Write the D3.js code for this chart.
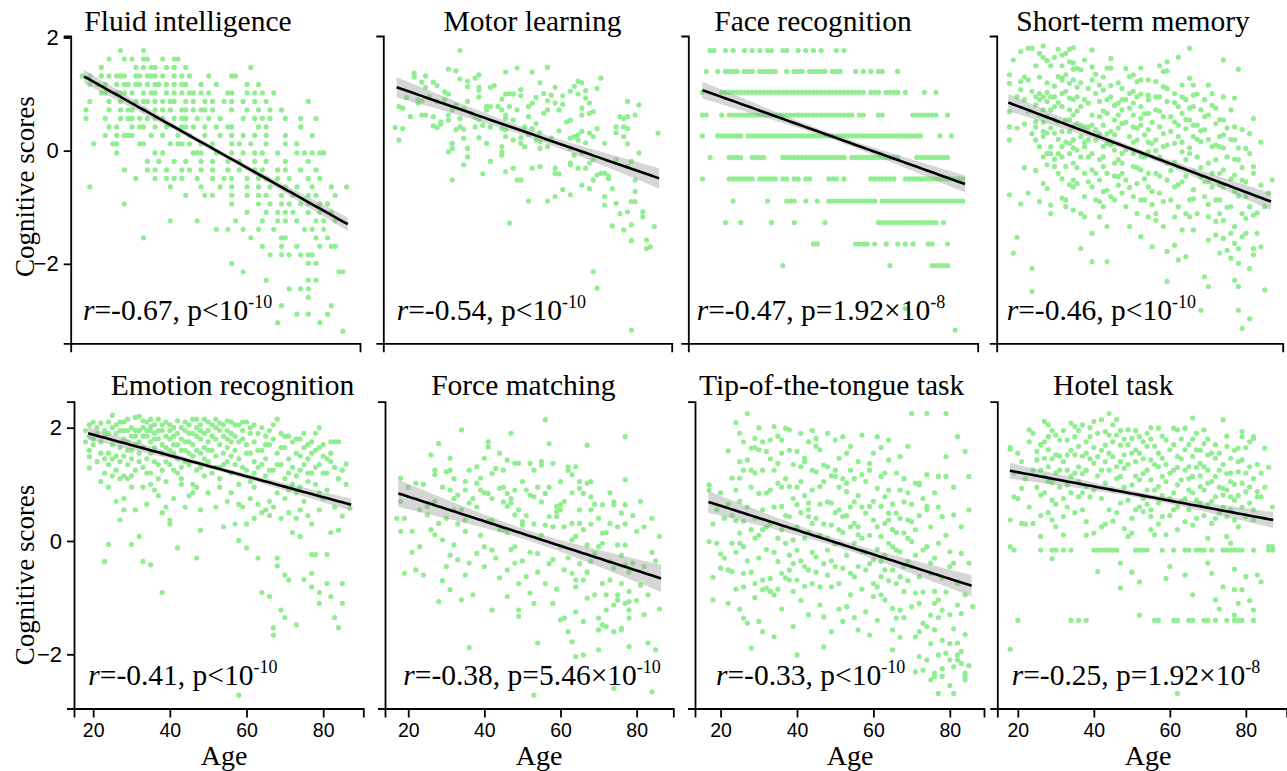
<!DOCTYPE html>
<html>
<head>
<meta charset="utf-8">
<script src="https://cdn.jsdelivr.net/npm/d3@7"></script>
<style>
  html, body { margin: 0; padding: 0; background: #fff; }
  svg { display: block; }
</style>
</head>
<body>
<svg id="chart" width="1287" height="771"></svg>
<script>
// ---------------- data ----------------
const panelTitles = ["Fluid intelligence", "Motor learning", "Face recognition", "Short-term memory",
  "Emotion recognition", "Force matching", "Tip-of-the-tongue task", "Hotel task"];
const rValues    = ["-0.67", "-0.54", "-0.47", "-0.46", "-0.41", "-0.38", "-0.33", "-0.25"];
const pRelations = ["<", "<", "=", "<", "<", "=", "<", "="];
const pMantissas = ["", "", "1.92\u00d7", "", "", "5.46\u00d7", "", "1.92\u00d7"];
const pExponents = ["-10", "-10", "-8", "-10", "-10", "-10", "-10", "-8"];

// fitted line end points [age, score] and half-width of the 95% band (ends, centre)
const fitStarts = [[18.5, 1.31], [17.4, 1.12], [17.0, 1.07], [17.7, 0.85], [18.7, 1.90], [17.4, 0.84], [16.8, 0.69], [17.9, 1.24]];
const fitEnds   = [[87.3, -1.30], [86.3, -0.49], [85.6, -0.59], [87.7, -0.90], [87.3, 0.64], [86.4, -0.66], [85.7, -0.79], [87.2, 0.37]];
const ciHalfEnds = [0.12, 0.18, 0.15, 0.15, 0.11, 0.24, 0.19, 0.14];
const ciHalfMids = [0.04, 0.07, 0.05, 0.05, 0.04, 0.09, 0.07, 0.05];

const yTickValues = [-2, 0, 2];
const xTickValues = [20, 40, 60, 80];

// Fluid intelligence: scores fall on discrete levels; ages listed per level
const fluidLevels = [1.77, 1.62, 1.47, 1.32, 1.17, 1.02, 0.87, 0.72, 0.57, 0.42, 0.27, 0.12, -0.04, -0.19, -0.34, -0.49, -0.64,
  -0.79, -0.94, -1.09, -1.24, -1.39, -1.54, -1.69, -1.84, -1.99, -2.14, -2.29, -2.44, -2.59, -2.74, -2.89, -3.04, -3.19];
const fluidAgesByLevel = [
  [28, 34],
  [25, 29, 31, 34, 35, 39, 42, 43],
  [23, 32, 34, 36, 37, 40, 42, 45, 62],
  [18, 20, 23, 25, 27, 28, 29, 32, 33, 35, 36, 37, 39, 42, 44, 46, 51, 57, 58],
  [20, 22, 24, 27, 29, 30, 32, 33, 35, 37, 38, 40, 42, 44, 45, 49, 53, 61, 64],
  [23, 24, 27, 28, 29, 31, 34, 36, 37, 40, 42, 44, 46, 47, 49, 51, 56, 57, 61, 63, 65, 68],
  [20, 25, 28, 32, 34, 35, 37, 39, 41, 42, 45, 47, 50, 52, 55, 57, 60, 63, 66, 77],
  [19, 25, 28, 30, 31, 34, 37, 39, 41, 44, 45, 47, 49, 50, 52, 57, 61, 64, 67, 70],
  [19, 24, 28, 30, 31, 33, 35, 37, 39, 42, 44, 45, 48, 51, 54, 60, 63, 65, 67, 71, 75, 79],
  [25, 27, 31, 33, 34, 37, 40, 44, 45, 47, 50, 53, 56, 57, 64, 66, 75],
  [24, 27, 29, 30, 31, 36, 39, 43, 46, 50, 54, 57, 60, 63, 66, 71, 78],
  [21, 26, 27, 33, 34, 41, 43, 44, 46, 49, 52, 57, 59, 62, 66, 71, 74],
  [27, 37, 39, 47, 48, 49, 53, 57, 60, 63, 65, 69, 74, 76, 78, 80, 81],
  [35, 38, 42, 45, 49, 52, 56, 59, 63, 66, 71, 77],
  [29, 35, 37, 40, 44, 46, 49, 52, 56, 59, 63, 65, 69, 71, 75, 79],
  [32, 37, 40, 42, 44, 48, 52, 55, 57, 61, 64, 66, 69, 72, 77, 80],
  [20, 41, 49, 54, 57, 61, 64, 67, 71, 74, 78, 83, 87],
  [45, 50, 52, 57, 61, 64, 66, 70, 73, 77, 79, 84],
  [29, 57, 64, 67, 70, 72, 75, 77, 80, 82],
  [61, 66, 69, 71, 73, 77, 80, 83],
  [41, 48, 58, 65, 69, 71, 74, 79, 81, 84],
  [53, 56, 60, 64, 68, 76, 78, 81],
  [34, 62, 70, 71, 79, 82],
  [65, 70, 74, 80, 83, 84],
  [67, 70, 72, 75, 77, 78],
  [57, 77, 79],
  [60, 85, 86],
  [66, 77, 79],
  [72, 75, 77],
  [77],
  [70, 83],
  [74, 77, 82],
  [69, 80],
  [86]
];

const motorPoints = [
  [34,1.77],[31,1.44],[33,1.41],[49,1.46],[46,1.39],[53,1.39],[57,1.47],[22,1.37],[25,1.32],[22,1.30],[27,1.21],[28,1.15],
  [24,1.21],[25,1.12],[34,1.27],[36,1.23],[36,1.13],[38,1.28],[39,1.34],[39,1.12],[39,1.07],[43,1.15],[42,1.12],[55,1.20],
  [50,1.08],[56,1.01],[59,1.12],[58,0.98],[61,0.97],[64,1.14],[65,1.23],[66,1.20],[67,1.06],[70,1.10],[71,1.28],[30,1.04],
  [31,1.00],[30,0.90],[23,0.90],[26,0.96],[20,0.94],[23,0.84],[24,0.88],[28,0.87],[33,0.81],[36,0.87],[39,0.95],[41,0.78],
  [45,0.91],[46,1.00],[47,1.01],[48,1.00],[50,0.97],[52,0.78],[54,0.94],[53,0.84],[57,0.88],[59,0.84],[61,0.82],[63,1.05],
  [65,1.00],[67,0.93],[68,0.84],[66,0.75],[68,0.66],[69,0.69],[66,0.63],[63,0.54],[60,0.72],[57,0.72],[56,0.66],[54,0.48],
  [52,0.60],[49,0.72],[47,0.78],[45,0.72],[46,0.63],[46,0.57],[44,0.78],[42,0.78],[41,0.72],[39,0.55],[38,0.59],[37,0.66],
  [35,0.74],[32,0.72],[31,0.63],[31,0.54],[29,0.47],[27,0.60],[24,0.63],[25,0.63],[21,0.60],[19,0.75],[18,0.78],[17,0.41],
  [19,0.39],[18,0.19],[27,0.44],[28,0.41],[29,0.51],[34,0.57],[34,0.42],[35,0.38],[33,0.37],[38,0.42],[40,0.45],[42,0.42],
  [45,0.39],[46,0.37],[48,0.54],[51,0.42],[53,0.39],[55,0.32],[52,0.28],[50,0.23],[54,0.19],[55,0.16],[58,0.22],[60,0.35],
  [62,0.51],[63,0.22],[65,0.28],[66,0.34],[68,0.31],[69,0.25],[65,0.19],[64,0.25],[67,0.14],[72,0.13],[75,0.42],[77,0.42],
  [78,0.39],[77,0.25],[78,0.12],[77,0.57],[78,0.60],[80,0.63],[76,0.60],[81,0.81],[78,0.87],[86,0.31],[75,0.32],[70,0.39],
  [35,0.22],[32,0.13],[31,-0.02],[32,0.04],[36,0.04],[39,0.23],[41,0.13],[45,0.07],[45,-0.02],[46,0.25],[48,0.19],[50,0.13],
  [51,0.07],[55,0.04],[57,0.07],[63,0.04],[64,-0.08],[66,-0.04],[68,-0.22],[69,-0.16],[71,-0.40],[70,-0.43],[72,-0.40],
  [73,-0.49],[73,-0.45],[63,-0.22],[63,-0.25],[65,-0.31],[67,-0.31],[59,-0.31],[60,-0.41],[59,-0.40],[55,-0.28],[53,-0.31],
  [50,-0.52],[49,-0.52],[48,-0.31],[46,-0.37],[45,-0.08],[42,-0.19],[40,-0.41],[36,-0.11],[35,-0.25],[32,-0.52],[81,-0.04],
  [75,-0.16],[78,-0.28],[79,-0.19],[80,-0.52],[74,-0.67],[68,-0.67],[66,-0.61],[63,-0.78],[61,-0.69],[59,-0.81],[57,-0.89],
  [52,-0.89],[69,-0.52],[72,-0.81],[72,-0.96],[75,-0.93],[76,-1.11],[78,-1.08],[79,-0.90],[80,-0.90],[80,-0.72],[82,-1.08],
  [82,-1.17],[85,-1.34],[83,-1.58],[83,-1.73],[84,-1.70],[79,-1.31],[77,-1.40],[74,-1.33],[79,-1.59],[69,-2.14],[70,-2.43],
  [47,-1.28],[79,-3.17]
];

// Face recognition: discrete score levels; ages listed per level
const faceLevels = [1.77, 1.40, 1.03, 0.63, 0.26, -0.12, -0.50, -0.89, -1.27, -1.65, -2.03, -2.79, -3.17];
const faceAgesByLevel = [
  [19,20,23,25,28,30,32,34,35,38,39,42,44,46,48,52,54],
  [18,21,23,24,25,26,28,29,30,32,33,34,35,36,39,41,42,43,45,46,47,48,49,51,52,53,57,59,61,63,64,68],
  [17,22,23,24,25,26,27,28,29,30,31,32,33,34,35,36,37,38,39,40,41,42,43,44,45,46,47,48,49,50,51,52,53,54,55,56,57,58,59,
   61,62,63,65,66,67,68,70,75,78],
  [17,18,22,24,25,26,27,28,29,30,31,32,33,34,35,36,37,38,39,40,41,42,43,44,45,46,47,48,49,50,51,52,53,54,55,56,58,59,63,64,
   72,73,74,75,76,77,78,81],
  [17,21,22,23,24,25,26,27,29,30,31,32,33,34,35,36,37,38,39,40,41,42,43,44,45,46,47,48,49,50,51,52,53,54,55,56,57,58,59,60,
   61,62,63,64,65,66,67,68,69,70,71,72,73,74,79,82],
  [19,24,25,26,27,30,31,32,33,38,39,40,41,42,43,44,45,46,47,48,49,50,51,52,53,54,56,57,58,59,60,61,62,63,64,65,66,67,68,
   73,74,75,76,77,78,79,80,81],
  [17,24,25,26,27,28,29,30,32,33,34,35,36,38,39,41,42,44,45,50,51,52,54,61,62,63,64,65,66,67,70,71,72,73,74,75,76,77,78,79,
   80,81,82,83,84,85],
  [25,34,39,40,41,44,47,50,51,52,53,54,55,56,57,58,59,60,61,62,64,65,66,67,68,69,70,71,72,73,74,75,76,77,78,79,80,81,82,
   83,84,85],
  [23,27,35,41,49,63,64,65,66,67,68,69,70,71,72,73,74,75,76,77,78,80],
  [46,47,57,58,59,60,62,65,68,70,72,76,77,81],
  [38,66,77,78,79,80,81],
  [70],
  [83]
];

const memoryPoints = [
  [18,1.34],[18,1.19],[18,0.69],[18,0.42],[18,0.19],[18,-0.78],[20,-1.53],[19,-1.81],[21,-0.94],[22,0.47],[23,-0.75],[24,-2.08],
  [24,-2.49],[21,1.22],[20,0.95],[22,0.90],[23,1.25],[21,1.08],[23,1.81],[24,1.81],[26,1.72],[27,1.65],[28,1.59],[25,0.95],
  [26,0.90],[25,0.81],[26,1.01],[27,0.95],[28,0.87],[28,1.03],[29,0.95],[27,0.72],[26,0.63],[25,0.51],[25,0.42],[27,0.25],
  [26,0.07],[27,-0.11],[29,-0.05],[25,0.19],[27,-0.58],[28,-0.67],[29,-0.96],[29,-1.11],[28,-0.25],[27,0.34],[28,0.60],[28,0.31],
  [29,0.72],[30,0.78],[30,0.31],[29,0.07],[30,-0.15],[31,1.79],[34,1.79],[35,1.82],[32,1.69],[33,1.72],[34,1.57],[37,1.43],
  [35,1.44],[36,1.46],[31,1.31],[32,1.25],[30,1.14],[32,1.28],[33,1.34],[34,1.19],[35,1.25],[36,1.12],[30,0.95],[32,1.01],
  [34,0.93],[35,0.90],[36,0.95],[37,0.78],[38,0.90],[32,0.78],[34,0.72],[35,0.63],[33,0.54],[31,0.51],[32,0.34],[34,0.34],
  [35,0.42],[36,0.48],[38,0.42],[37,0.25],[35,0.19],[34,0.13],[32,0.07],[31,-0.05],[32,-0.11],[34,-0.05],[36,0.01],[38,0.07],
  [37,-0.11],[35,-0.22],[33,-0.28],[35,-0.52],[35,-0.64],[36,-0.58],[38,-0.40],[38,-0.81],[32,-0.84],[33,-0.99],[35,-1.05],
  [37,-1.11],[38,-1.17],[37,-1.73],[30,-0.28],[33,-0.87],[31,-0.40],[40,1.78],[40,1.48],[44,1.46],[45,1.46],[45,1.63],[40,1.25],
  [42,1.16],[43,1.07],[45,0.95],[41,1.01],[39,0.84],[42,0.87],[44,0.90],[47,0.84],[40,0.63],[42,0.60],[44,0.66],[46,0.54],
  [47,0.63],[39,0.42],[41,0.37],[43,0.45],[45,0.34],[46,0.28],[41,0.19],[43,0.07],[44,0.13],[46,0.01],[39,-0.11],[42,-0.16],
  [43,-0.11],[46,-0.22],[40,-0.34],[42,-0.52],[44,-0.40],[47,-0.46],[40,-0.64],[43,-0.72],[45,-0.81],[41,-0.87],[43,-0.99],
  [46,-0.87],[42,-1.17],[44,-1.34],[40,-1.46],[40,-1.96],[44,-1.96],[47,-0.61],[43,-0.28],[39,0.19],[47,-0.16],[50,1.31],
  [51,1.34],[52,1.22],[53,1.25],[53,1.46],[48,1.10],[50,1.01],[52,0.95],[55,0.98],[49,0.90],[51,0.84],[53,0.78],[55,0.90],
  [48,0.72],[51,0.63],[53,0.57],[55,0.66],[48,0.48],[51,0.42],[53,0.45],[55,0.37],[50,0.25],[52,0.19],[54,0.28],[56,0.13],
  [49,0.01],[51,-0.05],[54,-0.11],[55,-0.02],[48,-0.22],[51,-0.28],[53,-0.34],[55,-0.40],[49,-0.52],[52,-0.58],[55,-0.64],
  [48,-0.75],[51,-0.81],[53,-0.87],[56,-0.72],[49,-0.99],[52,-1.11],[55,-1.17],[50,-1.34],[53,-1.52],[56,-1.70],[48,-0.40],
  [54,-0.87],[58,1.50],[59,1.40],[60,1.41],[60,1.57],[63,1.65],[66,1.81],[57,1.22],[59,1.13],[62,1.01],[64,1.16],[58,0.95],
  [60,0.87],[63,0.78],[65,0.90],[57,0.72],[59,0.60],[62,0.51],[64,0.66],[58,0.42],[61,0.34],[63,0.25],[65,0.39],[57,0.19],
  [59,0.07],[62,0.13],[64,-0.02],[58,-0.11],[60,-0.22],[63,-0.28],[65,-0.16],[57,-0.40],[60,-0.52],[62,-0.64],[64,-0.55],
  [58,-0.75],[61,-0.87],[63,-0.99],[65,-1.11],[57,-1.11],[59,-1.34],[62,-1.17],[64,-1.40],[60,-1.78],[62,-1.67],[63,-1.93],
  [65,-1.87],[60,-2.31],[57,-1.23],[66,1.28],[67,1.16],[71,1.16],[67,0.98],[70,0.90],[72,1.01],[67,0.78],[69,0.72],[71,0.63],
  [73,0.75],[66,0.54],[68,0.45],[70,0.37],[73,0.48],[67,0.25],[69,0.16],[72,0.07],[74,0.25],[66,-0.05],[68,-0.11],[71,-0.22],
  [73,-0.16],[67,-0.37],[69,-0.46],[71,-0.55],[74,-0.40],[67,-0.69],[70,-0.81],[73,-0.87],[66,-0.87],[68,-1.11],[71,-1.17],
  [74,-1.11],[67,-1.40],[71,-1.58],[73,-1.49],[74,-1.81],[70,-2.23],[71,-2.40],[69,-2.82],[66,-1.17],[72,-0.64],[75,1.60],
  [79,1.44],[75,0.95],[78,0.93],[77,0.72],[75,0.54],[78,0.42],[80,0.37],[75,0.28],[78,0.19],[81,0.04],[74,0.07],[76,-0.11],
  [79,-0.16],[82,-0.05],[75,-0.34],[78,-0.43],[80,-0.52],[83,-0.28],[75,-0.64],[78,-0.72],[81,-0.81],[74,-0.87],[77,-0.99],
  [80,-1.11],[82,-0.99],[75,-1.23],[78,-1.34],[81,-1.46],[75,-1.55],[78,-1.64],[80,-1.52],[83,-1.73],[77,-1.90],[79,-1.99],
  [78,-2.29],[79,-2.40],[79,-2.82],[82,-2.97],[82,-2.08],[77,-1.46],[79,-1.73],[76,-1.76],[83,0.57],[85,-0.61],[88,-0.52],
  [83,-1.14],[84,-1.46],[85,-1.70],[86,-2.46],[83,-1.84],[86,-0.99],[84,-0.81],[83,-0.40],[80,-3.14],
  [19,1.60],[20,0.40],[21,1.75],[22,1.30],[22,-0.30],[23,0.70],[24,1.05],[24,0.30],[25,1.50],[25,-0.35],[26,1.30],[26,-0.90],
  [27,1.85],[27,0.50],[28,1.20],[28,-0.05],[29,1.50],[29,0.40],[30,1.65],[30,0.55],[31,0.85],[31,0.20],[32,1.50],[32,-0.50],
  [33,1.05],[33,0.15],[34,0.55],[34,-0.60],[35,1.55],[35,0.05],[36,0.70],[36,-0.30],[37,1.20],[37,0.45],[38,1.60],[38,0.15],
  [39,1.10],[39,-0.55],[40,0.45],[40,-0.05],[41,1.35],[41,-0.40],[42,0.30],[42,-0.90],[43,1.30],[43,0.70],[44,0.30],[44,-0.70],
  [45,1.15],[45,0.10],[46,0.80],[46,-0.45],[47,1.20],[47,0.40],[48,0.90],[48,-0.05],[49,1.45],[49,0.50],[50,0.75],[50,-0.65],
  [51,1.05],[51,0.15],[52,0.40],[52,-0.30],[53,1.00],[53,-0.10],[54,0.65],[54,-0.50],[55,1.25],[55,0.15],[56,0.50],[56,-0.95],
  [57,0.95],[57,0.00],[58,0.70],[58,-0.45],[59,0.30],[59,-0.90],[60,1.10],[60,0.10],[61,0.60],[61,-0.35],[62,0.85],[62,-0.20],
  [63,0.45],[63,-0.60],[64,0.95],[64,0.15],[65,0.55],[65,-0.45],[66,0.75],[66,0.05],[67,0.45],[67,-0.85],[68,1.00],[68,0.20],
  [69,0.35],[69,-0.30],[70,0.60],[70,-0.55],[71,0.20],[71,-0.95],[72,0.80],[72,-0.40],[73,0.10],[73,-1.25],[74,0.55],[74,-0.60],
  [75,0.05],[76,0.40],[76,-1.00],[77,0.20],[77,-0.50],[78,-0.15],[79,0.05],[79,-0.80],[80,-0.30],[81,-0.55],[81,-1.20],
  [82,0.30],[84,-1.10],[85,0.15],[87,-0.75]
];

// Emotion recognition: dense upper band listed by age, remaining points as pairs
const emotionBandByAge = [
  [18,[1.75,1.95]],[19,[2.05,1.85,1.60]],[20,[2.10,1.80,1.70]],[21,[1.90,2.00,1.40]],[22,[1.75,2.08,1.55]],
  [23,[1.95,1.85,1.20]],[24,[1.55,1.90,1.35,2.10]],[25,[2.00,1.45,1.70,2.22,1.15]],[26,[1.90,1.50,2.05,1.25]],
  [27,[1.65,1.40,1.95,2.10,1.10]],[28,[1.80,2.10,1.15,1.50,1.95]],[29,[1.95,1.35,1.75,2.15,1.60]],[30,[1.60,2.00,1.45,1.85,1.15]],
  [31,[1.85,1.25,2.18,1.70,1.95]],[32,[1.55,1.95,2.20,1.75,1.40]],[33,[1.65,2.00,1.30,2.12,1.85]],[34,[2.10,1.85,1.45,1.95,1.20]],
  [35,[1.95,1.75,1.20,2.15,1.55,2.02]],[36,[1.40,1.90,2.05,1.65,1.80]],[37,[1.10,1.80,2.15,1.35,1.95]],[38,[1.95,1.55,1.70,2.05,1.25]],
  [39,[1.05,1.85,2.10,1.40,1.65]],[40,[1.95,1.60,2.05,1.80,1.35]],[41,[1.25,1.85,2.00,1.55,1.70]],[42,[1.70,1.90,1.45,2.12,1.20]],
  [43,[1.10,2.00,1.80,1.30,1.60]],[44,[1.60,1.95,2.10,1.75,1.40]],[45,[1.75,1.35,2.05,1.90,1.55]],[46,[1.50,2.15,1.00,1.70,1.90]],
  [47,[1.85,2.15,1.25,1.60,2.00]],[48,[1.95,1.55,1.80,2.05,1.30]],[49,[1.65,1.15,1.90,2.15,1.45]],[50,[2.10,1.75,1.40,1.95,1.60]],
  [51,[1.20,1.85,1.60,2.05]],[52,[2.00,1.50,1.80,2.15,1.30]],[53,[1.30,1.70,1.95,1.10,2.08]],[54,[1.85,1.55,2.05,1.35]],
  [55,[1.65,1.40,1.95,1.80,2.12]],[56,[1.75,2.10,1.20,1.90,1.50]],[57,[1.60,1.85,1.35,2.05]],[58,[2.05,1.00,1.45,1.75]],
  [59,[1.80,1.95,1.30,2.10]],[60,[1.70,2.10,1.25,1.55]],[61,[1.90,1.55,1.05,2.00]],[62,[2.05,1.40,1.75,1.20]],
  [63,[1.30,1.90,1.60]],[64,[1.60,2.00,1.35]],[65,[1.45,1.85,1.15,1.70]],[66,[1.95,1.70,1.25]],[67,[2.05,1.25,1.80]],
  [68,[1.55,2.15,1.35]],[69,[1.90,1.35,1.65]],[70,[1.65,1.10,1.85]],[71,[1.85,1.45,1.20]],[72,[1.75,1.30]],
  [73,[1.55,1.15,1.80]],[74,[1.25,1.80,1.50]],[75,[1.35,1.65,1.90]],[76,[1.45,1.70,1.20]],[77,[1.75,1.20,1.55]],
  [78,[1.60,1.90,1.30]],[79,[1.35,2.00,1.65]],[80,[1.50,1.70,1.20]],[81,[1.20,1.45]],[82,[1.55,1.75]],[83,[1.75,1.30]],
  [84,[1.10,1.75]],[85,[1.25]],[86,[1.00]]
];
const emotionPoints = [
  [19,1.29],[19,1.49],[22,1.05],[23,1.45],[24,0.95],[26,0.70],[28,0.55],[28,0.75],[29,1.10],[30,0.95],[31,0.55],[33,0.95],
  [34,0.65],[35,1.00],[36,0.90],[37,0.80],[39,0.60],[40,0.30],[41,0.75],[43,1.00],[44,0.60],[46,0.85],[47,0.95],[48,0.55],
  [50,0.85],[52,0.60],[53,0.95],[54,0.25],[55,0.70],[56,0.85],[57,0.30],[59,0.60],[60,0.30],[61,0.75],[62,0.95],[63,0.65],
  [64,0.50],[65,0.55],[66,0.45],[67,0.60],[68,0.85],[69,0.40],[70,0.75],[71,0.50],[72,0.15],[72,1.00],[73,0.40],[73,0.85],
  [74,0.55],[74,0.95],[75,0.70],[76,1.05],[77,0.30],[78,1.00],[79,0.55],[80,0.75],[81,0.90],[82,1.40],[83,0.60],[84,1.10],
  [79,0.85],[76,0.45],[71,0.90],[66,0.70],[62,0.40],[58,0.65],[45,0.80],[38,0.50],
  [24,-0.06],[23,-0.36],[27,0.37],[30,-0.06],[32,0.08],[33,-0.36],[35,-0.42],[38,-0.91],[40,0.37],[42,-0.12],[47,-0.30],
  [48,0.19],[58,0.01],[60,-0.12],[63,-0.30],[64,-0.91],[66,-0.98],[67,-1.66],[67,-1.53],[68,-0.30],[69,-1.22],[70,-1.35],
  [71,-0.69],[73,-1.48],[75,-0.68],[77,-0.57],[77,-0.81],[79,-1.10],[79,-0.91],[81,-0.75],[82,-0.98],[83,-1.35],[84,-1.53],
  [85,-0.75],[85,-1.10],[81,-0.24],[82,0.15],[84,0.19],[85,0.44],[68,-0.44],[70,-0.60],[74,0.08],[77,-0.24],[78,-0.24],
  [86,1.36],[87,0.58],[58,-2.72]
];

const forcePoints = [
  [18,1.11],[17,0.40],[19,0.40],[18,0.17],[21,0.17],[19,-0.57],[22,-0.51],[22,1.02],[23,-0.10],[24,-0.60],[25,0.46],[25,0.61],
  [26,1.52],[27,1.25],[27,1.17],[27,0.11],[28,1.72],[28,0.31],[29,0.02],[28,-1.07],[30,-0.45],[30,1.22],[31,1.25],[31,1.46],
  [31,0.90],[32,0.75],[31,-0.25],[31,-0.86],[32,0.55],[32,-0.07],[33,0.81],[33,-0.33],[34,-1.04],[34,1.96],[35,1.05],[35,0.90],
  [35,0.17],[35,0.37],[36,0.67],[36,-0.39],[36,-1.88],[37,0.75],[38,-0.22],[38,1.31],[38,1.02],[39,0.90],[39,1.11],[40,1.46],
  [40,-0.10],[41,1.75],[41,1.66],[41,0.84],[42,-1.22],[42,-0.16],[42,0.37],[42,1.19],[43,1.28],[44,0.93],[44,0.20],[45,0.69],
  [45,1.25],[45,0.20],[46,1.43],[46,-0.51],[46,0.61],[46,-0.98],[46,0.84],[47,0.75],[47,1.90],[47,0.67],[48,0.46],[48,-0.10],
  [48,-0.39],[48,1.37],[49,-0.75],[49,1.37],[49,-1.22],[49,-1.33],[50,0.34],[50,0.28],[51,0.90],[51,-0.63],[52,0.81],[52,1.37],
  [52,-0.92],[53,1.25],[53,0.78],[53,-1.10],[53,-2.72],[54,-0.22],[54,-1.80],[55,1.34],[55,1.40],[55,0.69],[56,0.84],[56,0.28],
  [56,2.14],[57,1.72],[57,0.43],[58,-1.10],[58,1.37],[58,-0.33],[59,0.61],[59,0.43],[59,0.52],[60,0.55],[60,-1.39],[60,0.64],
  [61,-0.51],[61,0.25],[61,-1.36],[62,-1.60],[62,1.25],[62,1.31],[63,1.17],[63,0.31],[63,-0.57],[63,0.02],[63,-1.78],[64,-0.69],
  [64,1.31],[64,-0.81],[64,0.08],[64,-2.04],[65,1.05],[65,0.31],[65,0.93],[66,-0.69],[66,0.84],[66,-1.42],[66,-2.01],[67,1.02],
  [67,-1.01],[67,1.69],[67,-0.07],[68,0.78],[68,0.55],[68,1.05],[68,-0.36],[69,-0.22],[70,-0.10],[70,-1.57],[70,-1.36],
  [70,-1.92],[71,0.14],[71,0.64],[71,-0.04],[71,-1.48],[72,-1.51],[72,-1.22],[73,-0.69],[73,0.31],[73,-0.36],[74,0.69],
  [74,-0.48],[74,-1.13],[74,0.64],[75,-0.07],[75,-1.04],[75,-0.95],[76,-1.57],[76,-1.54],[76,-0.25],[76,0.49],[77,-1.10],
  [77,1.84],[77,1.08],[77,0.64],[77,-0.07],[77,-0.42],[78,-1.07],[78,-1.22],[78,-1.36],[78,-1.86],[78,-0.89],[79,-0.39],
  [81,-0.78],[80,0.17],[82,-1.30],[82,0.25],[83,-1.80],[84,-0.20],[85,-1.92],[86,0.08],[84,-2.66],[74,-2.60],
  [18,0.70],[20,0.95],[21,-0.20],[23,0.55],[24,1.00],[26,0.20],[27,0.70],[29,0.95],[29,-0.70],[30,0.40],[32,1.10],[33,0.30],
  [34,0.55],[35,-0.60],[36,1.25],[37,-0.95],[38,0.60],[39,0.10],[40,0.85],[40,-0.45],[41,0.35],[42,0.75],[43,-0.30],[44,1.55],
  [44,-0.65],[45,0.95],[46,0.15],[47,-0.15],[48,0.90],[49,0.55],[50,-0.35],[50,1.05],[51,0.45],[52,-0.20],[53,0.30],[54,0.95],
  [54,-0.55],[55,0.10],[56,-0.75],[57,0.95],[57,-0.40],[58,0.25],[59,-0.85],[60,1.05],[60,-0.10],[61,0.70],[62,-0.30],[63,0.85],
  [64,-1.25],[65,0.55],[65,-0.40],[66,0.20],[67,-0.55],[68,0.30],[69,-0.95],[69,0.65],[70,0.40],[71,-0.75],[72,0.15],[72,-0.95],
  [73,0.85],[74,-1.60],[75,0.25],[76,-0.75],[77,0.30],[78,-0.55],[79,0.45],[80,-1.05],[81,0.70],[82,-0.45],[83,-0.95],[84,0.40],
  [85,-0.35],[86,-1.20]
];

const tipPoints = [
  [17,0.99],[17,0.90],[17,-0.01],[19,-0.04],[18,-1.04],[18,-0.64],[20,-0.23],[20,-0.48],[22,1.59],[22,-0.51],[23,-0.54],
  [23,-0.04],[23,1.11],[24,0.36],[24,2.09],[25,1.11],[25,1.90],[25,1.40],[26,1.25],[25,0.14],[25,-0.04],[26,-0.57],[26,-0.81],
  [25,-1.20],[26,-1.36],[27,-1.45],[27,1.43],[27,2.25],[28,1.64],[28,1.25],[28,0.20],[28,-1.89],[29,1.81],[29,1.65],[29,-0.75],
  [29,0.05],[30,-1.42],[30,1.61],[31,1.25],[30,0.84],[31,0.20],[31,-0.86],[31,-0.69],[31,1.75],[32,-0.83],[32,1.58],[33,1.78],
  [33,-0.66],[33,-0.89],[33,0.90],[34,1.25],[34,-1.69],[34,2.02],[35,1.37],[35,1.02],[35,-0.36],[36,1.78],[36,-0.57],[36,0.61],
  [36,1.55],[36,0.20],[37,-0.04],[37,1.99],[38,1.96],[38,-0.69],[38,0.43],[38,0.96],[38,-0.51],[39,-1.51],[39,0.02],[39,-0.89],
  [40,-2.01],[40,0.64],[40,-0.69],[40,-0.16],[40,1.58],[41,1.31],[41,1.90],[41,1.05],[42,1.40],[42,0.05],[42,-0.45],[42,1.46],
  [43,0.67],[43,0.55],[43,0.43],[43,-0.51],[44,-0.75],[44,1.25],[44,0.31],[45,1.67],[45,1.22],[45,1.81],[45,-0.28],[46,-0.81],
  [46,-1.13],[46,1.61],[46,0.96],[47,-1.34],[47,-1.87],[47,1.34],[48,0.69],[48,1.31],[48,-0.60],[48,-0.16],[49,-0.81],[49,0.67],
  [49,0.28],[50,1.78],[50,1.25],[50,-0.45],[50,1.14],[51,0.20],[51,0.55],[51,1.46],[52,0.43],[52,1.84],[52,-0.48],[52,-1.42],
  [53,1.02],[53,0.87],[53,-1.16],[54,-0.57],[54,0.25],[54,1.67],[54,1.25],[55,-0.63],[55,0.69],[55,0.31],[55,-0.04],[56,0.25],
  [56,0.11],[56,-1.57],[57,0.05],[57,1.87],[57,1.17],[57,-0.19],[58,0.49],[58,-0.51],[59,1.37],[59,0.61],[59,1.25],[59,-1.66],
  [60,-0.75],[60,-0.33],[60,-0.98],[60,0.37],[61,1.84],[61,0.93],[61,-0.81],[62,-0.63],[62,0.08],[62,-0.36],[62,1.14],[62,0.61],
  [63,-0.51],[63,0.31],[63,-1.04],[63,0.78],[64,0.37],[64,1.43],[64,0.49],[64,-0.04],[64,1.78],[65,-1.92],[65,0.20],[65,-1.57],
  [65,-0.51],[65,-1.19],[66,-1.36],[66,-0.16],[66,0.49],[66,1.20],[67,-0.19],[67,0.90],[67,1.49],[67,-0.63],[67,-1.22],
  [68,-0.89],[68,0.14],[68,-0.45],[68,0.69],[69,1.67],[69,0.37],[69,0.05],[69,-0.36],[70,2.25],[70,-0.01],[70,0.34],[70,-1.16],
  [71,-0.92],[71,1.02],[71,-2.31],[71,-1.69],[72,1.02],[72,-1.10],[72,-0.63],[72,-2.04],[72,0.99],[73,-0.16],[73,-1.45],
  [73,-2.28],[74,2.25],[74,0.55],[74,-1.51],[74,0.61],[74,1.17],[75,-0.57],[75,-1.31],[75,-1.81],[75,-0.39],[76,-0.89],
  [76,-2.39],[76,-2.33],[76,-1.57],[76,-1.10],[77,-0.04],[77,-2.01],[77,1.14],[77,-2.69],[77,-1.04],[78,-1.22],[78,0.43],
  [78,-2.25],[78,-2.39],[79,1.49],[79,2.25],[79,1.14],[79,-1.98],[80,-0.45],[80,-1.81],[80,-2.10],[80,-0.19],[81,-2.22],
  [81,-0.39],[81,-2.69],[81,0.46],[82,-1.13],[82,-2.10],[82,1.84],[82,-2.01],[83,-1.28],[83,-2.16],[83,-0.22],[84,-2.33],
  [84,1.58],[84,-2.39],[84,-2.45],[85,1.14],[86,-1.16],[85,-0.39],
  [18,0.30],[19,0.55],[20,0.85],[21,-0.30],[21,0.40],[22,0.65],[22,-1.10],[23,0.45],[24,-0.20],[24,0.90],[24,-0.85],[25,0.70],
  [26,0.35],[26,1.75],[26,-0.10],[27,0.60],[27,-0.35],[28,0.95],[28,-0.55],[29,1.20],[29,0.40],[29,-1.00],[30,0.10],[30,-0.30],
  [30,2.00],[31,0.55],[31,-1.60],[32,0.85],[32,0.25],[32,-0.15],[33,0.30],[33,1.45],[34,0.60],[34,-0.20],[34,-0.95],[35,0.05],
  [35,1.85],[35,-0.85],[36,-1.20],[36,0.95],[37,0.45],[37,1.10],[37,-0.65],[38,1.60],[38,-0.25],[39,0.75],[39,1.35],[39,-0.40],
  [40,0.95],[40,0.25],[41,-0.35],[41,0.50],[41,-1.05],[42,0.80],[42,-0.80],[43,1.75],[43,0.15],[43,-1.30],[44,0.90],[44,-0.20],
  [44,1.95],[45,0.40],[45,-0.55],[46,0.10],[46,0.65],[47,0.30],[47,1.05],[47,-0.40],[48,0.05],[48,1.90],[49,-0.35],[49,1.15],
  [49,-1.60],[50,0.50],[50,-0.05],[51,-0.75],[51,0.95],[51,-1.20],[52,0.15],[52,1.10],[53,-0.25],[53,0.45],[53,1.55],[54,-0.95],
  [54,0.60],[55,1.10],[55,-1.35],[56,0.80],[56,1.40],[56,-0.45],[57,-0.85],[57,0.60],[58,1.05],[58,-0.20],[58,-1.25],[59,0.10],
  [59,-0.40],[60,0.70],[60,1.55],[61,0.25],[61,-0.15],[61,-1.40],[62,-0.95],[62,1.65],[63,1.20],[63,-0.25],[64,-0.70],[64,0.90],
  [65,0.65],[65,-0.10],[66,0.15],[66,-0.75],[67,0.40],[67,-1.70],[68,1.10],[68,-1.35],[69,-0.70],[69,0.85],[70,-0.45],[70,0.65],
  [71,0.20],[71,-0.25],[72,-1.60],[72,0.45],[73,0.75],[73,-0.90],[74,-0.10],[74,-2.10],[75,0.25],[75,-2.45],[76,0.85],[76,-0.30],
  [77,-1.35],[77,0.60],[78,-0.65],[78,-1.75],[79,-0.90],[79,0.10],[80,-1.30],[80,-2.55],[81,-1.55],[81,0.95],[82,-0.75],
  [82,-1.80],[83,0.25],[83,-1.95],[84,-0.95],[84,-1.65],[85,-2.20],[85,0.55]
];

const hotelPoints = [
  [18,1.65],[18,1.62],[19,0.78],[20,0.75],[18,0.37],[18,-0.10],[21,0.31],[22,0.30],[21,0.93],[23,1.96],[23,1.75],[24,0.31],
  [25,1.58],[25,1.43],[26,0.81],[26,1.25],[26,0.08],[27,1.14],[27,1.46],[27,2.11],[28,2.05],[28,1.84],[28,1.61],[28,1.31],
  [29,1.03],[29,0.37],[29,0.72],[29,-0.31],[30,1.52],[30,1.87],[31,1.78],[31,1.25],[32,0.75],[32,0.43],[32,0.11],[33,0.99],
  [33,1.52],[33,1.78],[34,1.14],[34,2.08],[35,2.02],[35,1.84],[35,1.52],[36,1.31],[36,0.78],[36,1.67],[37,1.19],[37,2.05],
  [37,0.55],[38,0.96],[38,1.55],[38,0.34],[39,1.84],[39,0.78],[40,2.11],[40,0.14],[40,1.37],[41,-0.54],[41,1.49],[42,2.14],
  [42,1.25],[42,0.25],[43,1.93],[43,1.02],[43,1.69],[44,2.25],[44,0.55],[44,1.87],[45,1.49],[45,0.90],[46,1.87],[46,1.31],
  [46,2.14],[47,1.14],[47,0.67],[47,1.69],[47,-0.39],[47,-0.83],[48,0.22],[48,1.28],[48,1.52],[49,1.96],[49,0.72],[49,0.08],
  [50,1.81],[50,0.99],[50,0.14],[51,1.40],[51,0.55],[51,1.61],[52,-1.31],[52,1.08],[52,1.84],[52,-0.72],[53,0.75],[53,0.52],
  [53,1.19],[54,1.67],[54,0.90],[54,1.90],[55,0.43],[55,1.43],[55,0.55],[55,1.08],[56,1.67],[56,0.11],[57,0.67],[57,1.31],
  [57,1.99],[57,0.96],[58,0.43],[58,1.46],[58,1.14],[59,0.11],[59,-0.66],[59,1.78],[60,0.75],[60,1.61],[61,1.99],[61,1.25],
  [61,0.55],[62,0.99],[62,1.49],[62,1.96],[63,0.70],[63,1.08],[64,0.34],[64,1.61],[64,1.99],[65,0.90],[65,1.31],[65,0.55],
  [66,0.28],[66,1.49],[66,2.17],[66,1.14],[67,0.72],[67,1.61],[67,0.40],[68,1.37],[68,0.96],[68,0.67],[69,1.72],[69,1.96],
  [69,1.31],[70,1.02],[70,1.52],[70,0.64],[70,-0.39],[71,0.31],[71,1.55],[71,-0.57],[72,1.14],[72,-1.04],[72,1.46],[72,0.78],
  [73,0.49],[73,1.25],[74,0.93],[74,2.14],[74,-0.81],[74,0.81],[75,1.67],[75,0.43],[75,1.19],[75,0.08],[76,0.78],[76,1.46],
  [76,-0.04],[76,1.05],[77,-0.86],[77,0.37],[77,-1.31],[77,0.72],[78,1.22],[78,0.25],[78,1.64],[78,-1.10],[79,1.84],[79,1.93],
  [79,-0.86],[79,1.02],[79,1.43],[80,-0.63],[80,0.43],[80,0.87],[81,1.31],[81,0.67],[82,-1.22],[82,0.37],[82,1.81],[83,0.78],
  [82,1.84],[83,-0.60],[83,0.87],[84,-0.72],[84,0.78],[85,1.64],[86,-0.10],[87,-0.10],[18,-1.91],[62,-2.69],
  [19,1.20],[20,1.55],[21,1.40],[22,1.10],[23,0.60],[24,1.90],[24,1.25],[25,0.95],[26,1.70],[26,0.45],[27,0.85],[27,1.75],
  [28,1.05],[28,0.50],[29,1.45],[29,1.95],[30,1.20],[30,0.65],[31,1.50],[31,0.95],[32,1.40],[32,1.95],[33,1.25],[33,0.60],
  [34,1.60],[34,0.85],[35,1.20],[35,0.50],[36,1.95],[36,1.05],[37,1.50],[37,0.85],[38,1.75],[38,1.25],[39,1.45],[39,2.00],
  [40,1.65],[40,0.90],[41,1.90],[41,1.15],[42,1.60],[42,0.75],[43,1.40],[43,0.30],[44,1.25],[44,1.55],[45,1.75],[45,2.05],
  [46,1.10],[46,0.50],[47,1.95],[47,1.40],[48,1.80],[48,0.95],[49,1.35],[49,1.70],[50,1.55],[50,0.40],[51,1.95],[51,1.15],
  [52,1.55],[52,0.60],[53,1.75],[53,1.45],[54,1.25],[54,0.65],[55,1.80],[55,2.00],[56,1.35],[56,0.90],[57,1.55],[57,0.30],
  [58,1.85],[58,0.80],[59,1.35],[59,1.05],[60,1.20],[60,0.45],[61,1.70],[61,0.85],[62,1.30],[62,0.60],[63,1.80],[63,1.45],
  [64,1.25],[64,0.75],[65,1.70],[65,1.10],[66,0.85],[66,1.80],[67,1.30],[67,1.90],[68,1.60],[68,1.15],[69,0.90],[69,0.45],
  [70,1.25],[70,1.80],[71,1.05],[71,0.70],[72,1.70],[72,0.40],[73,1.55],[73,0.95],[74,1.35],[74,0.60],[75,1.85],[75,0.90],
  [76,1.20],[76,0.55],[77,1.60],[77,1.00],[78,0.80],[78,1.40],[79,0.60],[80,1.20],[80,1.65],[81,0.95],[81,1.75],[82,1.10],
  [82,0.55],[83,1.35],[84,1.20],[85,0.95],[86,1.30],[87,0.60],[70,0.05],[62,0.20],[55,0.20],[45,0.35],[38,0.10],[30,0.25],
  [66,-0.95],[73,-1.20],[81,-1.05],[77,-0.50],[60,-0.45],[50,-0.55],[64,-0.60]
];
// Hotel task scores that repeat exactly; ages listed per level
const hotelRowLevels = [-0.16, -1.40];
const hotelRowAges = [
  [19,26,29,30,32,34,40,41,42,43,44,45,46,51,52,53,54,58,61,64,65,67,68,69,71,74,75,76,77,78,79,82,86,87],
  [20,34,36,38,56,57,61,62,65,66,69,70,72,75,77,78,79,82,82]
];

// ---------------- assemble series ----------------
const byLevel = (levels, agesByLevel) => agesByLevel.flatMap((ages, i) => ages.map(a => [a, levels[i]]));
const seriesPoints = [
  byLevel(fluidLevels, fluidAgesByLevel),
  motorPoints,
  byLevel(faceLevels, faceAgesByLevel),
  memoryPoints,
  emotionBandByAge.flatMap(([a, ss]) => ss.map(s => [a, s])).concat(emotionPoints),
  forcePoints,
  tipPoints,
  hotelPoints.concat(byLevel(hotelRowLevels, hotelRowAges))
];

// ---------------- layout ----------------
const rows = [
  { y0: 36,    y1: 343.3, s0: -3.404, s1: 2.026, titleY: 30.5, noteY: 320, labelY: 186.7 },
  { y0: 401.7, y1: 708.5, s0: -2.956, s1: 2.458, titleY: 395,  noteY: 685, labelY: 575 }
];
const layout = [
  { x0: 70.7,  x1: 360,    a0: 15,   a1: 90.48, row: 0, titleX: 188,    noteX: 83 },
  { x0: 383.3, x1: 671.7,  a0: 13.9, a1: 89.59, row: 0, titleX: 532.5,  noteX: 396.7 },
  { x0: 688.3, x1: 977.7,  a0: 13.3, a1: 88.91, row: 0, titleX: 813,    noteX: 696.7 },
  { x0: 996.7, x1: 1282.7, a0: 14.6, a1: 90.81, row: 0, titleX: 1133,   noteX: 1006.7 },
  { x0: 74,    x1: 363.3,  a0: 15,   a1: 90.47, row: 1, titleX: 232.5,  noteX: 88.3,  ageX: 224 },
  { x0: 385,   x1: 673.3,  a0: 13.9, a1: 89.63, row: 1, titleX: 523.3,  noteX: 403.3, ageX: 539 },
  { x0: 695,   x1: 984,    a0: 13.3, a1: 88.95, row: 1, titleX: 831.7,  noteX: 716,   ageX: 850 },
  { x0: 997.3, x1: 1286.7, a0: 14.6, a1: 90.75, row: 1, titleX: 1113.3, noteX: 1011.7, ageX: 1148 }
];

const SERIF = "'Liberation Serif', 'Times New Roman', Times, serif";
const SANS = "'Liberation Sans', Arial, Helvetica, sans-serif";
const POINT_COLOR = "#90ee90";

const svg = d3.select("#chart");

layout.forEach((L, i) => {
  const R = rows[L.row];
  const x = d3.scaleLinear().domain([L.a0, L.a1]).range([L.x0, L.x1]);
  const y = d3.scaleLinear().domain([R.s0, R.s1]).range([R.y1, R.y0]);
  const g = svg.append("g").attr("class", "panel");

  // scatter
  g.append("g").selectAll("circle")
    .data(seriesPoints[i])
    .join("circle")
    .attr("cx", d => x(d[0]))
    .attr("cy", d => y(d[1]))
    .attr("r", 2.6)
    .attr("fill", POINT_COLOR);

  // regression line with confidence band
  const [s, e] = [fitStarts[i], fitEnds[i]];
  const mid = (s[0] + e[0]) / 2, halfSpan = (e[0] - s[0]) / 2;
  const hm = ciHalfMids[i], he = ciHalfEnds[i];
  const samples = d3.range(61).map(k => {
    const age = s[0] + (e[0] - s[0]) * k / 60;
    const fit = s[1] + (e[1] - s[1]) * (age - s[0]) / (e[0] - s[0]);
    const t = (age - mid) / halfSpan;
    const half = Math.sqrt(hm * hm + (he * he - hm * hm) * t * t);
    return { age, fit, half };
  });
  g.append("path")
    .datum(samples)
    .attr("d", d3.area().x(d => x(d.age)).y0(d => y(d.fit - d.half)).y1(d => y(d.fit + d.half)))
    .attr("fill", "#999999")
    .attr("fill-opacity", 0.4);
  g.append("path")
    .datum(samples)
    .attr("d", d3.line().x(d => x(d.age)).y(d => y(d.fit)))
    .attr("fill", "none")
    .attr("stroke", "#000")
    .attr("stroke-width", 2.6);

  // axes
  const firstCol = (i % 4) === 0;
  const yAxis = d3.axisLeft(y).tickSizeOuter(0).tickSize(7).tickPadding(5)
    .tickValues(firstCol ? yTickValues : []).tickFormat(d3.format("d"));
  const ya = g.append("g").attr("transform", `translate(${L.x0},0)`).call(yAxis);
  ya.selectAll("text").attr("font-family", SANS).attr("font-size", 22).attr("fill", "#000");

  const xAxis = d3.axisBottom(x).tickSizeOuter(0).tickSize(9).tickPadding(6)
    .tickValues(L.row === 1 ? xTickValues : []).tickFormat(d3.format("d"));
  const xa = g.append("g").attr("transform", `translate(0,${R.y1})`).call(xAxis);
  xa.selectAll("text").attr("font-family", SANS).attr("font-size", 19.5).attr("fill", "#000");

  [ya, xa].forEach(a => {
    a.select(".domain").attr("stroke", "#000").attr("stroke-width", 1.8);
    a.selectAll(".tick line").attr("stroke", "#000").attr("stroke-width", 1.8);
  });

  // panel title
  svg.append("text")
    .attr("x", L.titleX).attr("y", R.titleY)
    .attr("text-anchor", "middle")
    .attr("font-family", SERIF).attr("font-size", 29.5).attr("fill", "#000")
    .text(panelTitles[i]);

  // correlation note
  const note = svg.append("text")
    .attr("x", L.noteX).attr("y", R.noteY)
    .attr("font-family", SERIF).attr("font-size", 29.5).attr("fill", "#000");
  note.append("tspan").attr("font-style", "italic").text("r");
  note.append("tspan").text("=" + rValues[i] + ", p" + pRelations[i] + pMantissas[i] + "10");
  note.append("tspan").attr("dy", -12).attr("font-size", 18).text(pExponents[i]);

  if (L.row === 1) {
    svg.append("text")
      .attr("x", L.ageX).attr("y", 765)
      .attr("text-anchor", "middle")
      .attr("font-family", SERIF).attr("font-size", 28).attr("fill", "#000")
      .text("Age");
  }
});

// shared y-axis titles
rows.forEach(R => {
  svg.append("text")
    .attr("transform", `translate(25,${R.labelY}) rotate(-90)`)
    .attr("text-anchor", "middle")
    .attr("dominant-baseline", "central")
    .attr("font-family", SERIF).attr("font-size", 27).attr("fill", "#000")
    .text("Cognitive scores");
});
</script>
</body>
</html>
